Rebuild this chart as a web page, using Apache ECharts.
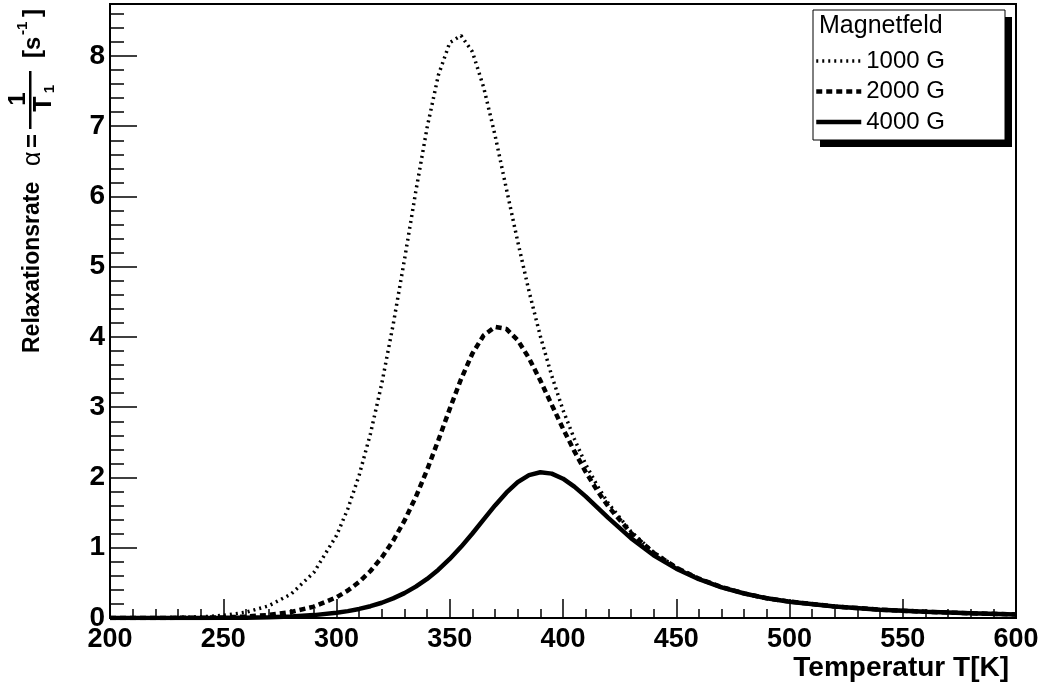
<!DOCTYPE html>
<html>
<head>
<meta charset="utf-8">
<title>Relaxationsrate</title>
<script src="https://cdn.jsdelivr.net/npm/echarts@6/dist/echarts.min.js"></script>
<style>
  html, body { margin: 0; padding: 0; background: #fff; }
  #chart { width: 1042px; height: 693px; }
</style>
</head>
<body>
<div id="chart"></div>
<script>
  // Temperatur in K
  var temps = [200, 220, 240, 250, 260, 270, 280, 290, 300, 305, 310, 315, 320, 325, 330, 335,
    340, 345, 350, 355, 360, 365, 370, 375, 380, 385, 390, 395, 400, 405, 410, 415, 420,
    430, 440, 450, 460, 470, 480, 490, 500, 520, 540, 560, 580, 600];

  // Relaxationsrate 1/T1 in 1/s
  var rate1000 = [0.000, 0.002, 0.016, 0.037, 0.082, 0.172, 0.342, 0.648, 1.174, 1.554, 2.032, 2.625,
    3.339, 4.173, 5.10, 6.07, 6.98, 7.73, 8.19, 8.29, 8.06, 7.55, 6.87, 6.11, 5.36, 4.65, 4.01,
    3.45, 2.96, 2.55, 2.19, 1.89, 1.634, 1.231, 0.937, 0.721, 0.562, 0.442, 0.351, 0.281,
    0.234, 0.164, 0.119, 0.089, 0.067, 0.051];
  var rate2000 = [0.000, 0.0005, 0.004, 0.009, 0.021, 0.043, 0.086, 0.162, 0.295, 0.391, 0.514, 0.669,
    0.862, 1.099, 1.385, 1.723, 2.109, 2.534, 2.977, 3.401, 3.765, 4.024, 4.143, 4.115, 3.956,
    3.698, 3.380, 3.037, 2.696, 2.375, 2.081, 1.819, 1.587, 1.211, 0.928, 0.717, 0.560, 0.441,
    0.350, 0.281, 0.234, 0.164, 0.119, 0.089, 0.067, 0.051];
  var rate4000 = [0.000, 0.0001, 0.001, 0.002, 0.005, 0.011, 0.021, 0.041, 0.074, 0.098, 0.129, 0.168,
    0.217, 0.279, 0.354, 0.446, 0.556, 0.687, 0.840, 1.013, 1.203, 1.403, 1.602, 1.784, 1.933,
    2.033, 2.074, 2.055, 1.983, 1.870, 1.731, 1.579, 1.425, 1.137, 0.894, 0.702, 0.552, 0.437,
    0.349, 0.280, 0.232, 0.163, 0.118, 0.089, 0.067, 0.051];

  var fieldNames = ['1000 G', '2000 G', '4000 G'];
  var xTicks = [200, 250, 300, 350, 400, 450, 500, 550, 600];
  var yTicks = [0, 1, 2, 3, 4, 5, 6, 7, 8];

  var font = '"Liberation Sans", Arial, Helvetica, sans-serif';

  // Linienarten wie im Original (gepunktet, gestrichelt, durchgezogen)
  var lineStyles = [
    { color: '#000', width: 3.5, type: [2, 4], cap: 'butt' },
    { color: '#000', width: 4.5, type: [6, 4], cap: 'butt' },
    { color: '#000', width: 4.5, type: 'solid' }
  ];

  function pairs(ys) {
    return temps.map(function (t, i) { return [t, ys[i]]; });
  }

  function txt(text, x, y, size, weight, align) {
    return {
      type: 'text', x: x, y: y,
      style: {
        text: text, fill: '#000',
        font: (weight || 'bold') + ' ' + size + 'px ' + font,
        align: align || 'left', verticalAlign: 'middle',
        textAlign: align || 'left', textVerticalAlign: 'middle'
      }
    };
  }

  var chart = echarts.init(document.getElementById('chart'));

  chart.setOption({
    animation: false,
    backgroundColor: '#fff',
    grid: {
      left: 110, top: 4, right: 26, bottom: 75,
      show: true, borderColor: '#000', borderWidth: 2, backgroundColor: '#fff'
    },
    xAxis: {
      type: 'value', min: xTicks[0], max: xTicks[xTicks.length - 1], interval: 50,
      axisLine: { show: true, onZero: false, lineStyle: { color: '#000', width: 2 } },
      axisTick: { show: true, inside: true, length: 19, lineStyle: { color: '#000', width: 1.5 } },
      minorTick: { show: true, splitNumber: 5, length: 9, lineStyle: { color: '#000', width: 1.5 } },
      axisLabel: { color: '#000', fontSize: 27, fontWeight: 'bold', fontFamily: font, margin: 8 },
      splitLine: { show: false }
    },
    yAxis: [
      {
        type: 'value', min: yTicks[0], max: 8.74, interval: 1,
        axisLine: { show: true, onZero: false, lineStyle: { color: '#000', width: 2 } },
        axisTick: { show: true, inside: true, length: 27, lineStyle: { color: '#000', width: 1.5 } },
        axisLabel: { color: '#000', fontSize: 28, fontWeight: 'bold', fontFamily: font, margin: 5,
          showMaxLabel: false },
        splitLine: { show: false }
      },
      {
        // nur die kleinen Striche alle 0.2
        type: 'value', min: 0, max: 8.74, interval: 0.2, position: 'left',
        axisLine: { show: false },
        axisTick: { show: true, inside: true, length: 14, lineStyle: { color: '#000', width: 1.5 } },
        axisLabel: { show: false },
        splitLine: { show: false }
      }
    ],
    legend: {
      orient: 'vertical', left: 814, top: 49, padding: 0,
      itemWidth: 45, itemHeight: 20, itemGap: 6.5,
      itemStyle: { opacity: 0 },
      textStyle: { color: '#000', fontSize: 24, fontFamily: font },
      data: fieldNames.map(function (n, i) {
        return { name: n, lineStyle: { width: lineStyles[i].width, type: lineStyles[i].type } };
      })
    },
    series: fieldNames.map(function (n, i) {
      return {
        name: n, type: 'line', data: pairs([rate1000, rate2000, rate4000][i]), symbol: 'none',
        itemStyle: { color: '#000' },
        lineStyle: lineStyles[i]
      };
    }),
    graphic: [
      // Legendenkasten mit Schatten
      { type: 'rect', shape: { x: 820, y: 17, width: 192, height: 130 }, style: { fill: '#000' }, z: 1 },
      { type: 'rect', shape: { x: 813, y: 10, width: 192, height: 130 },
        style: { fill: '#fff', stroke: '#000', lineWidth: 1 }, z: 2 },
      Object.assign(txt('Magnetfeld', 819, 26, 25, 'normal'), { z: 3 }),
      // x-Achsentitel
      txt('Temperatur T[K]', 1009, 668, 28, 'bold', 'right'),
      // y-Achsentitel, gedreht
      {
        type: 'group', x: 33, y: 353, rotation: Math.PI / 2,
        children: [
          txt('Relaxationsrate', 0, 0, 23),
          txt('\u03b1', 187, 0, 25, 'normal'),
          txt('=', 205, 0, 24),
          { type: 'rect', shape: { x: 224, y: -4, width: 58, height: 2.5 }, style: { fill: '#000' } },
          txt('1', 254, -15, 24, 'bold', 'center'),
          txt('T', 249, 11, 25, 'bold', 'center'),
          txt('1', 264, 17, 15, 'bold', 'center'),
          txt('[s', 295, 0, 24),
          txt('-1', 318, -10, 15),
          txt(']', 336, 0, 24)
        ]
      }
    ]
  });
</script>
</body>
</html>
